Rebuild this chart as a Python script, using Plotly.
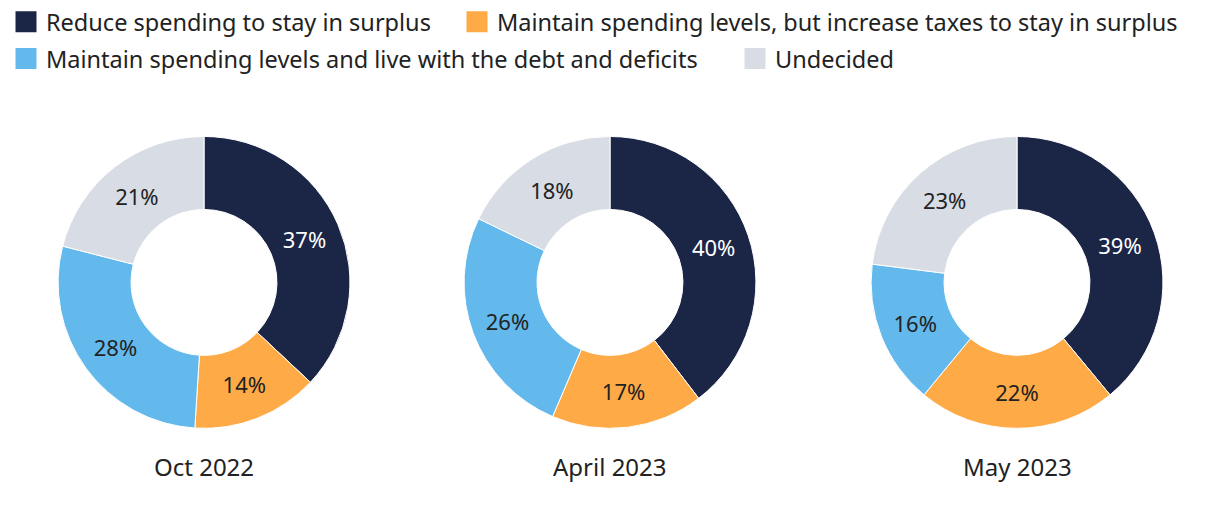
import plotly.graph_objects as go

# survey answers, in legend order
answers = [
    'Reduce spending to stay in surplus',
    'Maintain spending levels, but increase taxes to stay in surplus',
    'Maintain spending levels and live with the debt and deficits',
    'Undecided',
]
waves = ['Oct 2022', 'April 2023', 'May 2023']
oct_2022 = [37, 14, 28, 21]
apr_2023 = [40, 17, 26, 18]
may_2023 = [39, 22, 16, 23]

colors = ['#1b2647', '#feab47', '#63b9ec', '#d8dce4']
label_colors = ['#ffffff', '#222222', '#222222', '#222222']
font = 'Noto Sans'

W, H = 1220, 514
centers = [204, 610, 1017]  # pie centres in px
radius = 146.5
cy = 281.5

fig = go.Figure()

for name, vals, cx in zip(waves, [oct_2022, apr_2023, may_2023], centers):
    fig.add_trace(go.Pie(
        labels=answers,
        values=vals,
        hole=0.5,
        sort=False,
        direction='clockwise',
        rotation=0,
        marker=dict(colors=colors, line=dict(color='white', width=1)),
        texttemplate='%{value}%',
        textposition='inside',
        insidetextorientation='horizontal',
        textfont=dict(family=font, size=22, color=label_colors),
        hoverinfo='label+value',
        showlegend=False,
        domain=dict(x=[(cx - radius) / W, (cx + radius) / W],
                    y=[(H - cy - radius) / H, (H - cy + radius) / H]),
    ))
    fig.add_annotation(text=name, x=cx / W, y=(H - 466) / H, xref='paper', yref='paper',
                       xanchor='center', yanchor='middle', showarrow=False,
                       font=dict(family=font, size=24, color='#222222'))

# one small legend per entry so the two rows flow like the original
legend_ids = ['legend', 'legend2', 'legend3', 'legend4']
legend_x = [6, 457, 6, 735]   # px from left of figure
legend_y = [20, 20, 57, 57]   # px from top of figure

for ans, col, lid in zip(answers, colors, legend_ids):
    fig.add_trace(go.Scatter(
        x=[None], y=[None], mode='markers', name=ans, legend=lid,
        marker=dict(symbol='square', size=30, color=col, line=dict(color=col, width=5)),
    ))

legends = {}
for lid, lx, ly in zip(legend_ids, legend_x, legend_y):
    legends[lid] = dict(orientation='h', x=lx / W, y=1 - ly / H,
                        xanchor='left', yanchor='middle',
                        font=dict(family=font, size=23.5, color='#222222'),
                        itemsizing='trace', bgcolor='rgba(0,0,0,0)')

fig.update_layout(
    width=W, height=H,
    margin=dict(l=0, r=0, t=0, b=0),
    paper_bgcolor='white', plot_bgcolor='white',
    font=dict(family=font, size=22, color='#222222'),
    xaxis=dict(visible=False), yaxis=dict(visible=False),
    **legends,
)

# drop the default page margin so the figure fills the window
fig.write_html('out.html', config={'displayModeBar': False},
               post_script="document.body.style.margin='0';")
